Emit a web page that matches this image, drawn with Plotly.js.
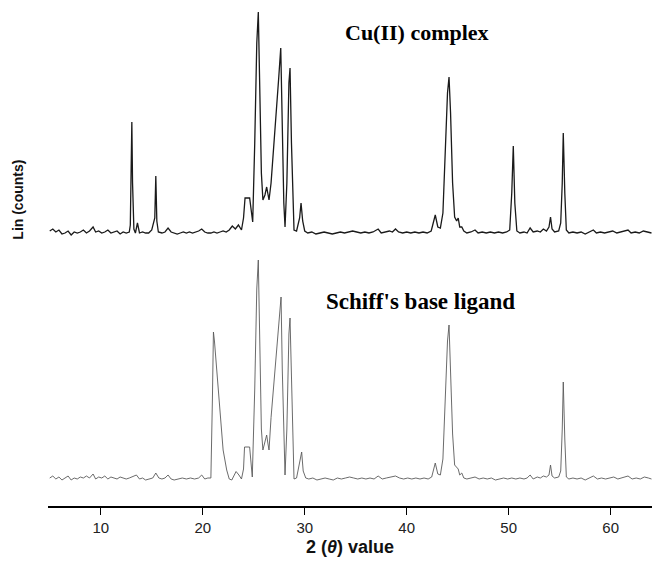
<!DOCTYPE html>
<html>
<head>
<meta charset="utf-8">
<script src="https://cdn.plot.ly/plotly-3.0.1.min.js"></script>
<style>html,body{margin:0;padding:0;background:#fff;}#chart{width:652px;height:565px;}</style>
</head>
<body>
<div id="chart"></div>
<script>
// 2θ positions (degrees) and intensities (arbitrary counts)
var cuX = [
  5.0,5.3,5.6,5.9,6.2,6.5,6.8,7.1,7.4,7.7,8.0,8.3,8.6,8.9,9.25,9.5,9.8,10.1,10.4,10.7,11.0,11.3,11.6,11.9,12.2,12.5,12.8,
  12.9,13.0,13.05,13.12,13.25,13.4,13.6,13.8,14.1,14.4,14.7,15.0,15.3,15.4,15.5,15.65,
  16.0,16.3,16.6,16.9,17.2,17.5,17.8,18.1,18.4,18.7,19.0,19.3,19.6,19.9,20.2,20.5,20.8,21.1,21.4,21.7,22.0,22.3,22.6,22.9,23.2,23.5,23.8,
  24.0,24.15,24.6,24.75,24.9,25.1,25.3,25.45,25.6,25.75,25.9,26.1,26.27,26.4,26.5,26.7,26.9,27.2,27.45,27.65,27.8,27.95,28.07,28.25,28.45,28.56,28.7,28.85,28.95,29.2,29.5,29.64,29.8,30.0,
  30.3,30.7,31.1,31.5,31.9,32.3,32.7,33.1,33.5,33.9,34.3,34.7,35.1,35.5,35.9,36.3,36.7,37.2,37.5,37.9,38.3,38.6,38.9,39.2,39.6,40.0,40.4,40.8,41.2,41.6,42.0,42.4,
  42.8,43.05,43.3,43.55,43.8,44.0,44.15,44.3,44.5,44.7,44.9,45.05,45.2,45.4,45.6,45.9,
  46.3,46.7,47.0,47.4,47.8,48.2,48.6,49.0,49.4,49.8,50.1,50.3,50.45,50.6,50.8,51.1,51.5,51.8,52.1,52.4,52.8,53.1,53.4,53.7,53.95,54.1,54.25,54.5,54.9,55.1,55.25,55.35,55.5,55.65,55.9,
  56.3,56.7,57.1,57.5,57.9,58.3,58.6,59.0,59.4,59.8,60.2,60.6,61.0,61.3,61.7,62.0,62.4,62.8,63.2,63.6,64.0
];
var cuY = [
  20,40,10,30,-10,0,20,-20,10,0,10,30,0,20,60,10,20,0,10,30,0,10,20,-10,10,0,10,
  80,800,1110,500,40,0,100,0,10,0,0,30,150,570,120,10,
  0,10,50,10,0,-10,0,10,0,10,0,10,20,40,10,0,0,10,0,10,20,10,30,70,40,80,30,
  150,350,350,200,110,900,1900,2210,1350,600,330,380,460,380,330,500,760,1200,1550,1850,1000,300,60,500,1500,1650,900,200,30,20,150,300,120,20,
  0,10,-10,0,10,0,-10,0,10,0,10,20,10,0,10,0,10,40,0,10,20,10,40,10,0,10,0,10,0,10,0,20,
  180,60,50,200,900,1400,1560,1200,500,160,120,150,60,60,20,0,
  10,30,0,10,0,10,0,10,0,10,30,400,870,300,20,0,10,0,50,10,20,10,40,20,60,160,40,10,20,100,500,1000,400,30,0,
  10,0,10,-10,10,30,0,10,0,10,20,0,10,20,30,0,10,0,20,10,0
];
var ligX = [
  5.0,5.3,5.6,5.9,6.2,6.5,6.8,7.1,7.4,7.7,8.0,8.3,8.6,8.9,9.25,9.5,9.8,10.1,10.4,10.7,11.0,11.3,11.6,11.9,12.2,12.5,12.8,13.1,13.5,13.8,14.1,14.4,14.8,15.1,15.4,15.7,16.0,16.3,16.6,16.9,17.2,17.6,18.0,18.4,18.8,19.2,19.6,19.9,20.2,20.5,20.8,
  20.95,21.05,21.15,21.37,21.7,22.0,22.35,22.6,22.85,23.05,23.27,23.55,23.8,24.0,24.1,24.6,24.72,24.86,25.1,25.3,25.45,25.6,25.75,25.9,26.1,26.27,26.4,26.5,26.7,27.1,27.4,27.6,27.68,27.8,27.95,28.07,28.25,28.45,28.56,28.7,28.85,28.95,29.2,29.5,29.7,29.85,30.1,
  30.4,30.8,31.2,31.6,32.0,32.4,32.8,33.2,33.6,34.0,34.4,34.8,35.2,35.6,36.0,36.4,36.8,37.2,37.6,38.0,38.4,38.9,39.3,39.7,40.1,40.5,40.9,41.3,41.7,42.1,42.45,
  42.8,43.05,43.3,43.55,43.8,44.0,44.15,44.3,44.5,44.7,44.9,45.05,45.2,45.4,45.6,45.9,
  46.3,46.7,47.1,47.5,47.9,48.3,48.7,49.1,49.5,49.9,50.3,50.7,51.1,51.5,51.8,52.1,52.4,52.8,53.1,53.4,53.7,53.95,54.1,54.25,54.5,54.9,55.1,55.25,55.35,55.5,55.65,55.9,
  56.3,56.7,57.1,57.5,57.9,58.3,58.7,59.1,59.5,59.9,60.3,60.7,61.1,61.4,61.7,62.1,62.5,62.9,63.3,63.7,64.0
];
var ligY = [
  10,30,0,20,-10,10,30,-10,10,0,20,10,30,10,50,0,20,10,30,0,20,10,0,20,10,0,10,20,40,0,10,-10,0,10,60,10,0,10,40,0,-10,0,10,0,10,0,10,40,0,10,10,
  800,1470,1380,1090,690,290,90,0,-10,30,75,40,0,100,320,320,180,20,900,1900,2190,1350,500,290,360,440,350,290,615,1110,1470,1710,1820,1100,300,40,500,1450,1610,900,150,0,10,150,270,80,10,
  0,10,-10,0,10,0,-10,10,0,10,20,10,0,10,0,10,0,30,0,10,20,30,10,0,10,0,10,0,10,0,20,
  160,50,40,200,900,1380,1540,1150,450,140,120,100,40,60,10,0,
  10,20,0,10,0,10,-10,0,10,0,10,0,10,0,10,40,0,20,10,30,20,40,140,30,10,20,80,500,970,400,20,0,
  10,0,10,-10,10,30,0,10,0,10,20,0,10,20,30,0,10,0,20,10,0
];
var xTicks = [10, 20, 30, 40, 50, 60];
var seriesNames = ["Cu(II) complex", "Schiff's base ligand"];

var traces = [
  {x: ligX, y: ligY, type: 'scatter', mode: 'lines', name: seriesNames[1],
   line: {color: '#5a5a5a', width: 0.9}, xaxis: 'x', yaxis: 'y', hoverinfo: 'x+y'},
  {x: cuX, y: cuY, type: 'scatter', mode: 'lines', name: seriesNames[0],
   line: {color: '#1a1a1a', width: 1.3}, xaxis: 'x', yaxis: 'y2', hoverinfo: 'x+y'}
];

var hiddenY = {showgrid: false, zeroline: false, showline: false, showticklabels: false, ticks: '', fixedrange: true};

var layout = {
  width: 652, height: 565,
  margin: {l: 48, r: 0, t: 0, b: 59},
  paper_bgcolor: '#ffffff', plot_bgcolor: '#ffffff',
  showlegend: false,
  xaxis: {
    range: [4.83, 64.05],
    tickvals: xTicks, ticktext: xTicks.map(String),
    ticks: 'outside', ticklen: 7, tickwidth: 1, tickcolor: '#000',
    showline: true, linecolor: '#000', linewidth: 1.5,
    showgrid: false, zeroline: false,
    tickfont: {family: 'Liberation Sans, Arial, sans-serif', size: 15, color: '#222'},
    title: {text: '<b>2 (<i>θ</i>) value</b>', font: {family: 'Liberation Sans, Arial, sans-serif', size: 18, color: '#111'}, standoff: 6}
  },
  yaxis: Object.assign({range: [-270, 4790]}, hiddenY),
  yaxis2: Object.assign({range: [-2730, 2330], overlaying: 'y'}, hiddenY),
  annotations: [
    {text: '<b>Lin (counts)</b>', xref: 'paper', yref: 'paper', x: -0.05, y: 0.605,
     textangle: -90, showarrow: false, xanchor: 'center', yanchor: 'middle',
     font: {family: 'Liberation Sans, Arial, sans-serif', size: 14, color: '#111'}},
    {text: '<b>' + seriesNames[0] + '</b>', xref: 'x', yref: 'paper', x: 41.0, y: 0.935,
     showarrow: false, xanchor: 'center', yanchor: 'middle',
     font: {family: 'Liberation Serif, Times New Roman, serif', size: 22, color: '#000'}},
    {text: '<b>' + seriesNames[1] + '</b>', xref: 'x', yref: 'paper', x: 41.4, y: 0.405,
     showarrow: false, xanchor: 'center', yanchor: 'middle',
     font: {family: 'Liberation Serif, Times New Roman, serif', size: 23, color: '#000'}}
  ]
};

Plotly.newPlot('chart', traces, layout, {displayModeBar: false, staticPlot: true});
</script>
</body>
</html>
